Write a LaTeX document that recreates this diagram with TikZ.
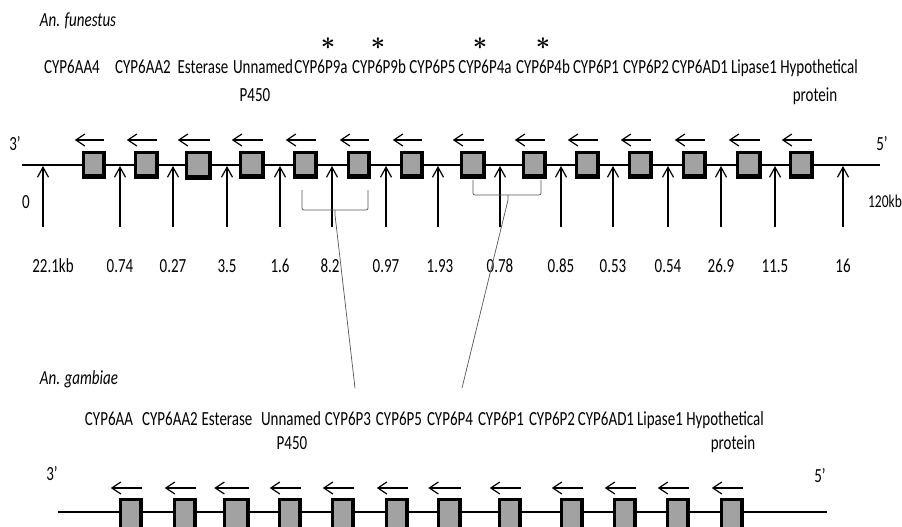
\documentclass[tikz,border=0pt]{standalone}
\usepackage{fontspec}
\usepackage{bm}
\setmainfont{Carlito}[FakeStretch=0.75]
\usetikzlibrary{arrows.meta}
\definecolor{boxgray}{RGB}{162,162,162}
\definecolor{brkgray}{RGB}{85,85,85}
\begin{document}
\begin{tikzpicture}[x=1pt,y=-1pt,
  lbl/.style={font=\fontsize{20}{24}\selectfont, inner sep=0pt, anchor=base},
  smalllbl/.style={font=\fontsize{18}{22}\selectfont, inner sep=0pt, anchor=base},
  star/.style={font=\fontsize{25}{28}\selectfont, inner sep=0pt},
  gbox/.style={rectangle, inner sep=0pt, fill=black,
    path picture={\fill[boxgray] ([xshift=3pt,yshift=-3pt]path picture bounding box.north west) rectangle ([xshift=-4pt,yshift=5pt]path picture bounding box.south east);}},
  larr/.style={-{Straight Barb[length=9pt,width=12pt]}, line width=1.2pt},
  uarr/.style={-{Straight Barb[length=10pt,width=11pt]}, line width=1.2pt},
  strand/.style={line width=1.6pt},
  brk/.style={draw=brkgray, line width=0.7pt, rounded corners=2pt}]
\useasboundingbox (0,0) rectangle (902,527);
\clip (0,0) rectangle (902,527);
\fill[white] (0,0) rectangle (902,527);

% ---------------- An. funestus ----------------
\node[lbl, font=\fontsize{20}{24}\selectfont\itshape] (fun) at (78,27) {An. funestus};

\foreach \i/\x/\t in {1/72/CYP6AA4, 2/143/CYP6AA2, 3/203/Esterase, 4/263/Unnamed, 5/321/CYP6P9a,
  6/379/CYP6P9b, 7/432.5/CYP6P5, 8/485/CYP6P4a, 9/543/CYP6P4b, 10/596/CYP6P1, 11/646/CYP6P2,
  12/700/CYP6AD1, 13/754/Lipase1, 14/819/Hypothetical}
  \node[lbl] (fn\i) at (\x,74) {\t};
\node[lbl] (fn4b) at (255,101) {P450};
\node[lbl] (fn14b) at (815,101) {protein};

\foreach \i/\x in {5/328, 6/378, 8/480, 9/543}
  \node[star] (st\i) at (\x,44) {$\bm{\ast}$};

\node[lbl] (f3) at (15,150) {3’};
\node[lbl] (f5) at (882,150) {5’};
\coordinate (fs) at (22,165);
\coordinate (fe) at (880,165);
\draw[strand] (fs) -- (fe);

\foreach \i/\x/\w/\h in {1/94/24/28, 2/146.5/25/28, 3/198.5/27/29, 4/252/26/28, 5/305.5/25/28,
  6/359/24/28, 7/412/24/28, 8/473/26/28, 9/534.5/25/28, 10/587.5/25/28, 11/640.5/25/28,
  12/694.5/25/28, 13/749/26/28, 14/801.5/25/28}
{
  \node[gbox, minimum width=\w pt, minimum height=\h pt] (tb\i) at (\x,165) {};
  \draw[larr] ([xshift=-2pt,yshift=25pt]tb\i.east) -- ([xshift=-7pt,yshift=25pt]tb\i.west);
}

\foreach \i/\x in {1/43, 2/120, 3/173, 4/227, 5/280, 6/332, 7/386, 8/438, 9/500, 10/561,
  11/613, 12/668, 13/721, 14/775, 15/843}
{
  \coordinate (ub\i) at (\x,227);
  \coordinate (ut\i) at (\x,166);
  \draw[uarr] (ub\i) -- (ut\i);
}

\node[lbl] (zero) at (26,208) {0};
\node[smalllbl] (end) at (885,207) {120kb};

\foreach \i/\x/\t in {1/53/22.1kb, 2/120/0.74, 3/173/0.27, 4/227/3.5, 5/280/1.6, 6/330/8.2,
  7/386/0.97, 8/440/1.93, 9/500/0.78, 10/561/0.85, 11/613/0.53, 12/668/0.54, 13/721/26.9,
  14/775/11.5, 15/843/16}
  \node[lbl] (d\i) at (\x,272) {\t};

% brackets and homology lines
\draw[brk] (302,190) -- (302,210) -- (368,210) -- (368,190);
\coordinate (br1) at (335,210);
\coordinate (br1d) at (335,215);
\coordinate (g1) at (355,388);
\draw[brk, rounded corners=0pt] (br1) -- (br1d) -- (g1);

\draw[brk] (473,180) -- (473,195) -- (541,195) -- (541,180);
\coordinate (br2) at (508,195);
\coordinate (br2d) at (508,200);
\coordinate (g2) at (462,388);
\draw[brk, rounded corners=0pt] (br2) -- (br2d) -- (g2);

% ---------------- An. gambiae ----------------
\node[lbl, font=\fontsize{20}{24}\selectfont\itshape] (gam) at (79,384) {An. gambiae};

\foreach \i/\x/\t in {1/109/CYP6AA, 2/170/CYP6AA2, 3/227/Esterase, 4/291/Unnamed, 5/348/CYP6P3,
  6/399/CYP6P5, 7/450/CYP6P4, 8/501/CYP6P1, 9/552/CYP6P2, 10/606/CYP6AD1, 11/660/Lipase1,
  12/725/Hypothetical}
  \node[lbl] (gn\i) at (\x,425) {\t};
\node[lbl] (gn4b) at (292,449) {P450};
\node[lbl] (gn12b) at (733,449) {protein};

\node[lbl] (g3) at (52,480) {3’};
\node[lbl] (g5) at (820,482) {5’};
\coordinate (gs) at (58,512);
\coordinate (ge) at (827,512);
\draw[strand] (gs) -- (ge);

\foreach \i/\x/\w/\h in {1/131/24/34, 2/185/24/34, 3/236/27/36, 4/290/24/34, 5/343/24/34,
  6/397/24/34, 7/449/25/34, 8/510/24/34, 9/572/24/34, 10/625/24/34, 11/678/24/34, 12/732/24/34}
{
  \node[gbox, minimum width=\w pt, minimum height=\h pt, anchor=north] (bb\i) at (\x,498) {};
  \draw[larr] ([xshift=-1pt,yshift=10pt]bb\i.north east) -- ([xshift=-8pt,yshift=10pt]bb\i.north west);
}
\end{tikzpicture}
\end{document}
